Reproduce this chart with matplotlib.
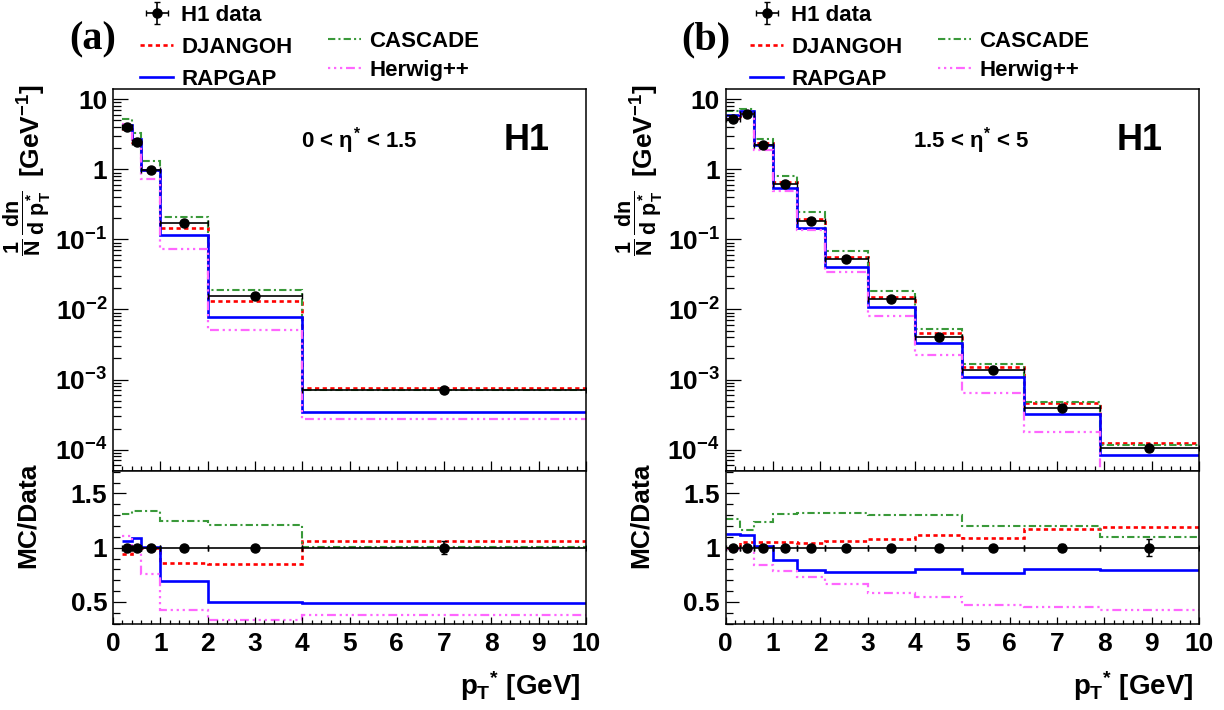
import matplotlib
matplotlib.use('Agg')
import matplotlib.pyplot as plt
import numpy as np
from matplotlib.ticker import FixedLocator, MultipleLocator, NullFormatter, LogLocator, FixedFormatter

plt.rcParams['font.family'] = ['Liberation Sans', 'DejaVu Sans']
plt.rcParams['font.weight'] = 'bold'
plt.rcParams['mathtext.fontset'] = 'custom'
plt.rcParams['mathtext.rm'] = 'Liberation Sans:bold'
plt.rcParams['mathtext.it'] = 'Liberation Sans:bold'
plt.rcParams['mathtext.bf'] = 'Liberation Sans:bold'
plt.rcParams['mathtext.sf'] = 'Liberation Sans:bold'

# ---------------- data: panel (a) 0 < eta* < 1.5 ----------------
edges_a = [0.2, 0.4, 0.6, 1.0, 2.0, 4.0, 10.0]
data_a = [4.0, 2.45, 0.97, 0.169, 0.0155, 7.1e-4]
data_a_relerr = [0.01, 0.01, 0.01, 0.01, 0.01, 0.06]
djangoh_a = [3.76, 2.45, 0.97, 0.145, 0.0132, 7.5e-4]
cascade_a = [5.24, 3.28, 1.30, 0.211, 0.0188, 7.2e-4]
rapgap_a = [4.24, 2.67, 0.98, 0.117, 0.00775, 3.48e-4]
herwig_a = [4.44, 2.45, 0.737, 0.0727, 0.00512, 2.7e-4]
djangoh_a_ratio = [0.94, 1.0, 1.0, 0.86, 0.85, 1.06]
cascade_a_ratio = [1.31, 1.34, 1.34, 1.25, 1.21, 1.01]
rapgap_a_ratio = [1.06, 1.09, 1.01, 0.69, 0.50, 0.49]
herwig_a_ratio = [1.11, 1.0, 0.76, 0.43, 0.33, 0.38]

# ---------------- data: panel (b) 1.5 < eta* < 5 ----------------
edges_b = [0.0, 0.3, 0.6, 1.0, 1.5, 2.1, 3.0, 4.0, 5.0, 6.3, 7.9, 10.0]
data_b = [5.28, 6.17, 2.22, 0.616, 0.1845, 0.0524, 0.0139, 0.00411, 0.00139, 3.98e-4, 1.05e-4]
data_b_relerr = [0.01, 0.01, 0.01, 0.01, 0.01, 0.01, 0.01, 0.01, 0.01, 0.03, 0.08]
djangoh_b = [5.28, 6.51, 2.34, 0.650, 0.193, 0.0555, 0.01496, 0.00459, 0.001512, 4.67e-4, 1.25e-4]
cascade_b = [6.70, 7.19, 2.75, 0.807, 0.243, 0.0690, 0.01807, 0.00534, 0.001668, 4.77e-4, 1.155e-4]
rapgap_b = [5.94, 6.87, 2.25, 0.545, 0.1463, 0.0409, 0.01077, 0.00329, 0.001072, 3.18e-4, 8.33e-5]
herwig_b = [5.23, 6.11, 1.86, 0.487, 0.134, 0.0348, 0.00815, 0.00224, 6.53e-4, 1.80e-4, 4.48e-5]
djangoh_b_ratio = [1.0, 1.055, 1.055, 1.055, 1.046, 1.06, 1.076, 1.116, 1.088, 1.174, 1.19]
cascade_b_ratio = [1.268, 1.165, 1.24, 1.31, 1.317, 1.317, 1.30, 1.30, 1.20, 1.198, 1.10]
rapgap_b_ratio = [1.125, 1.113, 1.012, 0.884, 0.793, 0.78, 0.775, 0.80, 0.771, 0.80, 0.793]
herwig_b_ratio = [0.99, 0.99, 0.838, 0.79, 0.726, 0.665, 0.586, 0.546, 0.47, 0.452, 0.427]

ytick_vals = [1e-4, 1e-3, 1e-2, 1e-1, 1, 10]
ytick_labels = ['$10^{-4}$', '$10^{-3}$', '$10^{-2}$', '$10^{-1}$', '1', '10']
xtick_vals = [0, 1, 2, 3, 4, 5, 6, 7, 8, 9, 10]
rtick_vals = [0.5, 1.0, 1.5]
rtick_labels = ['0.5', '1', '1.5']

C_DJ = '#ff0000'
C_RA = '#0000ff'
C_CA = '#3a993a'
C_HW = '#ff66ff'
LS_DJ = (0, (1.6, 1.3))
LS_CA = (0, (3.5, 1.5, 1.0, 1.5))
LS_HW = (0, (1.0, 1.7, 1.0, 1.7, 1.0, 1.7, 4.0, 1.7))

W, H = 1224, 710
fig = plt.figure(figsize=(12.24, 7.10), dpi=100)

def add_ax(x0, x1, ytop, ybot):
    return fig.add_axes([x0 / W, 1 - ybot / H, (x1 - x0) / W, (ybot - ytop) / H])

TFS = 19

def style_common(ax):
    for s in ax.spines.values():
        s.set_linewidth(1.1)
    ax.tick_params(which='both', direction='in', top=False, right=False, width=0.9)
    ax.set_xlim(0, 10)
    ax.xaxis.set_major_locator(FixedLocator(xtick_vals))
    ax.xaxis.set_minor_locator(MultipleLocator(0.2))

def panel(x0, x1, edges, data, relerr, mcs, ratios, tag, region, legend_dx):
    axt = add_ax(x0, x1, 89, 470.7)
    axr = add_ax(x0, x1, 470.7, 623.7)
    edges = np.asarray(edges)
    centers = 0.5 * (edges[1:] + edges[:-1])
    halfw = 0.5 * np.diff(edges)
    data = np.asarray(data)
    relerr = np.asarray(relerr)
    specs = [('DJANGOH', C_DJ, LS_DJ, 1.9), ('CASCADE', C_CA, LS_CA, 1.5),
             ('RAPGAP', C_RA, '-', 1.9), ('Herwig++', C_HW, LS_HW, 1.6)]
    handles = {}
    for (name, col, ls, lw), mc, rt in zip(specs, mcs, ratios):
        h = axt.stairs(mc, edges, baseline=None, color=col, linestyle=ls, lw=lw, label=name)
        axr.stairs(rt, edges, baseline=None, color=col, linestyle=ls, lw=lw)
        handles[name] = h
    eb = axt.errorbar(centers, data, xerr=halfw, yerr=data * relerr, fmt='o', color='black',
                      ms=6.5, elinewidth=1.2, capsize=2, capthick=1.0, zorder=5, label='H1 data')
    axr.errorbar(centers, np.ones_like(data), xerr=halfw, yerr=relerr, fmt='o', color='black',
                 ms=6.5, elinewidth=1.2, capsize=2, capthick=1.0, zorder=5)

    style_common(axt)
    axt.set_yscale('log')
    axt.set_ylim(5.0e-5, 14)
    axt.yaxis.set_major_locator(FixedLocator(ytick_vals))
    axt.yaxis.set_major_formatter(FixedFormatter(ytick_labels))
    axt.yaxis.set_minor_locator(LogLocator(base=10, subs=np.arange(2, 10)))
    axt.yaxis.set_minor_formatter(NullFormatter())
    axt.tick_params(axis='y', which='major', length=11, labelsize=TFS, pad=4)
    axt.tick_params(axis='y', which='minor', length=5.5)
    axt.tick_params(axis='x', which='major', length=7.5, labelbottom=False)
    axt.tick_params(axis='x', which='minor', length=3.7)

    style_common(axr)
    axr.set_ylim(0.3, 1.71)
    axr.yaxis.set_major_locator(FixedLocator(rtick_vals))
    axr.yaxis.set_major_formatter(FixedFormatter(rtick_labels))
    axr.yaxis.set_minor_locator(MultipleLocator(0.1))
    axr.tick_params(axis='y', which='major', length=9, labelsize=TFS, pad=4)
    axr.tick_params(axis='y', which='minor', length=4.8)
    axr.tick_params(axis='x', which='major', length=5, labelsize=TFS, pad=6)
    axr.tick_params(axis='x', which='minor', length=2.8)

    # texts
    axt.text(0.52, 0.865, region, transform=axt.transAxes, fontsize=16, ha='center', va='center')
    axt.text(0.875, 0.865, 'H1', transform=axt.transAxes, fontsize=26, ha='center', va='center')
    fig.text((x1 - 6) / W, 1 - 686 / H, r'$p_{T}{}^{*}$ [GeV]', fontsize=20, ha='right', va='center')
    fig.text((x0 - 81) / W, 1 - 84 / H, r'[GeV$^{-1}$]', fontsize=19,
             rotation=90, ha='center', va='top')
    fig.text((x0 - 86) / W, 1 - 190 / H, r'$\dfrac{1}{N}\,\dfrac{dn}{d\ p_{T}^{*}}$', fontsize=15.5,
             rotation=90, ha='center', va='top')
    fig.text((x0 - 85) / W, 1 - 463 / H, 'MC/Data', fontsize=19, rotation=90, ha='center', va='top')
    fig.text((x0 - 20) / W, 1 - 40 / H, tag, fontsize=29, family='Liberation Serif',
             weight='bold', ha='center', va='center')

    # legends
    fig.legend([eb, handles['DJANGOH'], handles['RAPGAP']], ['H1 data', 'DJANGOH', 'RAPGAP'],
               loc='upper left', bbox_to_anchor=((140 + legend_dx) / W, 1 - 5 / H),
               frameon=False, fontsize=16, handlelength=1.5, handletextpad=0.35,
               labelspacing=0.5, borderpad=0, borderaxespad=0)
    fig.legend([handles['CASCADE'], handles['Herwig++']], ['CASCADE', 'Herwig++'],
               loc='upper left', bbox_to_anchor=((328 + legend_dx) / W, 1 - 31 / H),
               frameon=False, fontsize=16, handlelength=1.5, handletextpad=0.35,
               labelspacing=0.35, borderpad=0, borderaxespad=0)
    return axt, axr

panel(113, 586, edges_a, data_a, data_a_relerr,
      [djangoh_a, cascade_a, rapgap_a, herwig_a],
      [djangoh_a_ratio, cascade_a_ratio, rapgap_a_ratio, herwig_a_ratio],
      '(a)', r'0 < $\eta^{*}$ < 1.5', 0)
panel(725.5, 1199, edges_b, data_b, data_b_relerr,
      [djangoh_b, cascade_b, rapgap_b, herwig_b],
      [djangoh_b_ratio, cascade_b_ratio, rapgap_b_ratio, herwig_b_ratio],
      '(b)', r'1.5 < $\eta^{*}$ < 5', 610)

fig.savefig('out.png', dpi=100)
